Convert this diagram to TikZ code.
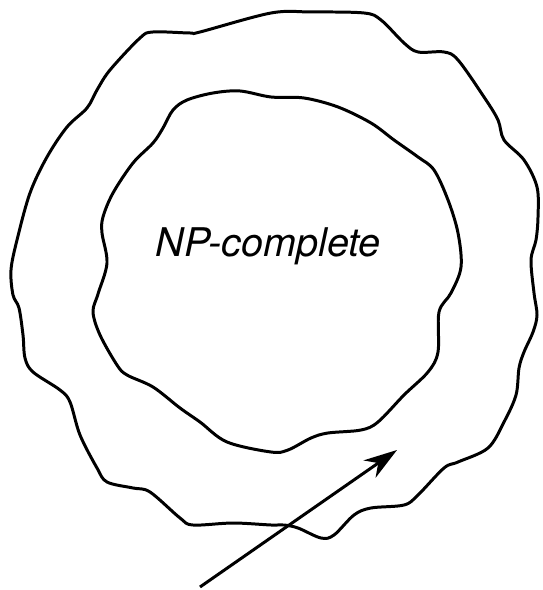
\documentclass[tikz,border=0pt]{standalone}
\usepackage{fontspec}
\newfontfamily\helv{TeX Gyre Heros}
\usetikzlibrary{arrows.meta}

\begin{document}
\begin{tikzpicture}[x=0.02cm, y=-0.02cm,
  blob/.style={line width=1.7pt, line join=round},
  lbl/.style={font=\helv\itshape\fontsize{22.5}{26}\selectfont, inner sep=0pt},
  ptr/.style={-{Stealth[length=19pt, width=12pt, inset=6pt]}, line width=1.7pt}
]
\useasboundingbox (0,0) rectangle (542,590);

% Outer region
\draw[blob] plot[smooth cycle, tension=0.55] coordinates {
  (271,13) (311,12) (364,13) (381,20) (404,43) (418,52) (444,52) (458,60)
  (484,97) (498,120) (504,140) (524,160) (537,187) (538,217) (536,240)
  (531,260) (534,293) (537,315) (533,332) (524,352) (519,368) (516,395)
  (504,422) (488,448) (458,462) (444,468) (418,495) (404,505) (371,508)
  (354,515) (334,535) (321,538) (298,528) (284,525) (271,525) (233,523)
  (193,525) (180,518) (150,492) (133,488) (107,482) (97,468) (80,435)
  (70,402) (60,390) (33,372) (25,358) (23,335) (19,308) (13,295) (11,270)
  (17,240) (30,193) (47,157) (67,127) (87,108) (97,90) (110,70) (140,38)
  (153,32) (190,33) (200,32)};

% Inner region
\draw[blob] plot[smooth cycle, tension=0.55] coordinates {
  (271,97) (304,98) (338,107) (371,123) (394,140) (418,157) (434,170)
  (448,200) (458,233) (461,267) (451,293) (439,312) (438,352) (428,372)
  (404,395) (378,422) (361,430) (328,433) (311,438) (288,450) (271,452)
  (227,442) (200,422) (180,408) (153,387) (127,375) (117,365) (100,335)
  (93,312) (98,294) (107,263) (102,233) (103,217) (113,193) (133,163)
  (153,143) (163,128) (173,110) (187,100) (213,93) (240,91)};

% Label
\node[lbl] (npc) at (268,246) {NP-complete};

% Pointer
\coordinate (tail) at (200,587);
\coordinate (tip) at (397,450);
\draw[ptr] (tail) -- (tip);
\end{tikzpicture}
\end{document}
